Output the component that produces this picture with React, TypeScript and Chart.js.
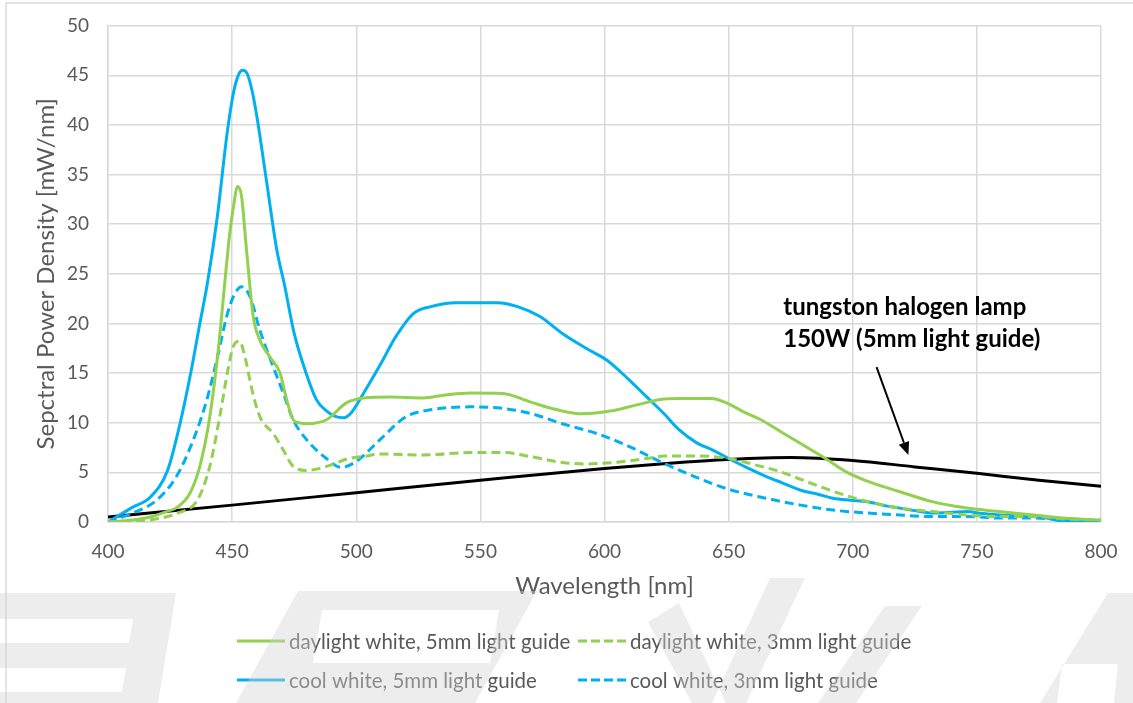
import React, { useEffect, useRef } from 'react';
import { Chart, registerables } from 'chart.js';

Chart.register(...registerables);

// ---------- data ----------
const dw5X = [400, 410, 417, 423, 428, 433, 437, 441, 444.4, 447, 449, 450.5, 452.2, 453.8, 455.8, 458.5, 461.2, 465.3, 469.3, 472, 474.6, 477, 480, 488, 496, 503, 514, 527, 536, 546, 559, 570, 581, 591, 603, 613, 624, 630, 643, 650, 656, 663, 671, 679, 689, 697, 705, 719, 732, 746, 759, 773, 786, 800];
const dw5Y = [0, 0.2, 0.5, 1.0, 1.5, 2.9, 5.6, 10.6, 17.3, 24, 29, 31.7, 33.8, 32.8, 27.4, 20.7, 18.3, 16.6, 15, 12.3, 10.3, 10.0, 9.9, 10.3, 12, 12.5, 12.6, 12.5, 12.8, 13, 12.95, 12.1, 11.3, 10.9, 11.2, 11.8, 12.4, 12.45, 12.45, 11.9, 11.1, 10.3, 9.1, 7.9, 6.4, 5.1, 4.2, 3.05, 2.05, 1.4, 1.05, 0.7, 0.37, 0.2];

const dw3X = [400, 410, 417, 428, 436, 441, 445, 448.5, 450.5, 453, 455.2, 458, 461.2, 466.6, 470.6, 474.6, 480, 488, 497, 503, 510, 527, 546, 559, 570, 583, 592, 608, 617, 624, 638, 650, 663, 671, 679, 692, 706, 719, 732, 746, 759, 773, 786, 800];
const dw3Y = [0, 0.1, 0.2, 0.9, 2.2, 5.6, 10.6, 15.6, 17.7, 18.2, 16.6, 13.3, 10.6, 8.9, 7.25, 5.6, 5.2, 5.6, 6.4, 6.6, 6.85, 6.75, 7, 7, 6.6, 6, 5.85, 6.1, 6.4, 6.65, 6.65, 6.4, 5.6, 5.05, 4.3, 3.1, 2.05, 1.4, 1.05, 0.7, 0.55, 0.55, 0.3, 0.2];

const cw5X = [400, 410, 417, 424, 429, 433, 437, 440, 444, 448, 450.5, 452.5, 454.2, 456, 458, 460, 464, 468, 471, 475, 479, 484, 488, 491, 495, 498, 503, 510, 516, 523, 530, 540, 557, 565, 574, 583, 594, 601, 610, 617, 624, 630, 637, 644, 650, 658, 665, 672, 679, 686, 692, 699, 706, 712, 719, 726, 732, 739, 746, 752, 759, 766, 773, 779, 786, 793, 800];
const cw5Y = [0, 1.5, 2.5, 5.2, 9.9, 14.6, 20, 24, 30.7, 39.2, 43.2, 45, 45.5, 45.2, 43.5, 40.8, 34.1, 27.4, 24, 19, 15.6, 12.3, 11.2, 10.7, 10.5, 11, 13, 16, 18.7, 21, 21.7, 22.1, 22.1, 21.7, 20.7, 19, 17.3, 16.3, 14.3, 12.6, 10.9, 9.3, 8.0, 7.2, 6.4, 5.4, 4.6, 3.9, 3.2, 2.8, 2.4, 2.2, 2.05, 1.7, 1.4, 1.1, 0.9, 0.95, 1.05, 0.85, 0.7, 0.6, 0.55, 0.35, 0.05, 0.05, 0.05];

const cw3X = [400, 410, 419.6, 427.6, 434.4, 439.8, 443.8, 447.8, 450.5, 453.8, 457.2, 461.2, 466.6, 470.6, 474.6, 480, 488, 494, 500, 509.6, 520, 530, 546, 559, 570, 583, 597, 610, 624, 637, 650, 665, 679, 692, 706, 719, 732, 746, 759, 773, 786, 800];
const cw3Y = [0, 0.9, 2.2, 4.6, 8.3, 12.3, 16.3, 20.7, 22.7, 23.7, 22.7, 19.3, 15.6, 13, 10.3, 8.3, 6.4, 5.5, 6.1, 8.3, 10.6, 11.3, 11.6, 11.45, 10.95, 9.9, 8.9, 7.6, 5.9, 4.5, 3.3, 2.4, 1.7, 1.2, 0.9, 0.7, 0.55, 0.55, 0.4, 0.4, 0.2, 0.05];

const thX = [400, 450, 500, 550, 600, 625, 650, 675, 700, 725, 750, 775, 800];
const thY = [0.5, 1.7, 2.95, 4.2, 5.4, 5.9, 6.3, 6.5, 6.2, 5.55, 4.9, 4.2, 3.6];

const seriesLabels = [
  'daylight white, 5mm light guide',
  'daylight white, 3mm light guide',
  'cool white, 5mm light guide',
  'cool white, 3mm light guide',
];
const annotationLines = ['tungston halogen lamp', '150W (5mm light guide)'];
const annotationX = 672;
const annotationY = [21.65, 18.4];
const arrowFrom = [709.6, 15.6];
const arrowTo = [722.4, 6.75];

const xTitle = 'Wavelength [nm]';
const yTitle = 'Sepctral Power Density [mW/nm]';

// ---------- styles ----------
const GREEN = '#92D050';
const BLUE = '#00B0F0';
const GRID = '#d9d9d9';
const TEXT = '#595959';
const FONT = 'Lato, "Open Sans", sans-serif';

const pts = (xs: number[], ys: number[]) => xs.map((x, i) => ({ x, y: ys[i] }));

const outerBorder = {
  id: 'outerBorder',
  beforeDraw(chart: any) {
    const ctx = chart.ctx;
    ctx.save();
    ctx.fillStyle = '#ffffff';
    ctx.fillRect(0, 0, chart.width, chart.height);
    ctx.strokeStyle = GRID;
    ctx.lineWidth = 1.5;
    ctx.beginPath();
    ctx.moveTo(6, chart.height);
    ctx.lineTo(6, 3);
    ctx.lineTo(chart.width, 3);
    ctx.stroke();
    ctx.restore();
  },
};

const annotation = {
  id: 'annotation',
  afterDatasetsDraw(chart: any) {
    const { ctx, scales } = chart;
    const xs = scales.x;
    const ys = scales.y;
    ctx.save();
    ctx.fillStyle = '#000';
    ctx.font = `bold 24px ${FONT}`;
    ctx.textAlign = 'left';
    ctx.textBaseline = 'middle';
    annotationLines.forEach((t, i) => {
      ctx.fillText(t, xs.getPixelForValue(annotationX), ys.getPixelForValue(annotationY[i]));
    });
    const x0 = xs.getPixelForValue(arrowFrom[0]);
    const y0 = ys.getPixelForValue(arrowFrom[1]);
    const x1 = xs.getPixelForValue(arrowTo[0]);
    const y1 = ys.getPixelForValue(arrowTo[1]);
    const ang = Math.atan2(y1 - y0, x1 - x0);
    const hl = 13;
    const hw = 5.5;
    const bx = x1 - hl * Math.cos(ang);
    const by = y1 - hl * Math.sin(ang);
    ctx.strokeStyle = '#000';
    ctx.lineWidth = 2;
    ctx.beginPath();
    ctx.moveTo(x0, y0);
    ctx.lineTo(bx, by);
    ctx.stroke();
    ctx.beginPath();
    ctx.moveTo(x1, y1);
    ctx.lineTo(bx + hw * Math.sin(ang), by - hw * Math.cos(ang));
    ctx.lineTo(bx - hw * Math.sin(ang), by + hw * Math.cos(ang));
    ctx.closePath();
    ctx.fill();
    ctx.restore();
  },
};

const customLegend = {
  id: 'customLegend',
  afterDraw(chart: any) {
    const ctx = chart.ctx;
    const colX = [237, 578];
    const rowY = [641, 680];
    const lineLen = 48;
    const colors = [GREEN, GREEN, BLUE, BLUE];
    const dashed = [false, true, false, true];
    ctx.save();
    ctx.font = `20.5px ${FONT}`;
    ctx.textBaseline = 'middle';
    ctx.textAlign = 'left';
    seriesLabels.forEach((label, i) => {
      const cx = colX[i % 2];
      const cy = rowY[Math.floor(i / 2)];
      ctx.strokeStyle = colors[i];
      ctx.lineWidth = 3;
      ctx.setLineDash(dashed[i] ? [9, 4] : []);
      ctx.beginPath();
      ctx.moveTo(cx, cy);
      ctx.lineTo(cx + lineLen, cy);
      ctx.stroke();
      ctx.setLineDash([]);
      ctx.fillStyle = TEXT;
      ctx.fillText(label, cx + lineLen + 4, cy + 1);
    });
    ctx.restore();
  },
};

// faint watermark overlay (decoration)
const watermarkShapes: number[][][] = [
  [[0, 593], [176, 593], [158, 703], [0, 703]],
  [[0, 619], [133, 619], [129, 643], [0, 643]],
  [[0, 668], [126, 668], [122, 692], [0, 692]],
  [[298, 591], [537, 591], [475, 703], [236, 703]],
  [[322, 610], [499, 610], [490, 663], [313, 663]],
  [[648, 622], [679, 603], [726, 703], [692, 703]],
  [[770, 578], [805, 578], [746, 703], [712, 703]],
  [[885, 606], [922, 606], [856, 703], [818, 703]],
  [[1108, 593], [1133, 593], [1133, 703], [1040, 703]],
  [[1062, 664], [1118, 664], [1114, 703], [1057, 703]],
];
const watermark = {
  id: 'watermark',
  afterDraw(chart: any) {
    const ctx = chart.ctx;
    ctx.save();
    ctx.fillStyle = 'rgba(212,212,212,0.42)';
    ctx.beginPath();
    watermarkShapes.forEach((poly) => {
      poly.forEach(([x, y], i) => (i === 0 ? ctx.moveTo(x, y) : ctx.lineTo(x, y)));
      ctx.closePath();
    });
    ctx.fill('evenodd');
    ctx.restore();
  },
};

export default function App() {
  const ref = useRef<HTMLCanvasElement | null>(null);

  useEffect(() => {
    document.body.style.margin = '0';
    if (!ref.current) return;
    const common = { pointRadius: 0, borderWidth: 3, cubicInterpolationMode: 'monotone' as const, fill: false };
    const chart = new Chart(ref.current, {
      type: 'line',
      data: {
        datasets: [
          { ...common, label: seriesLabels[0], data: pts(dw5X, dw5Y), borderColor: GREEN, backgroundColor: GREEN },
          { ...common, label: seriesLabels[1], data: pts(dw3X, dw3Y), borderColor: GREEN, backgroundColor: GREEN, borderDash: [9, 5] },
          { ...common, label: seriesLabels[2], data: pts(cw5X, cw5Y), borderColor: BLUE, backgroundColor: BLUE },
          { ...common, label: seriesLabels[3], data: pts(cw3X, cw3Y), borderColor: BLUE, backgroundColor: BLUE, borderDash: [9, 5] },
          { ...common, label: 'tungston halogen lamp', data: pts(thX, thY), borderColor: '#000', backgroundColor: '#000' },
        ],
      },
      options: {
        responsive: false,
        animation: false,
        layout: { padding: { top: 25.7, right: 32, bottom: 101, left: 0 } },
        plugins: { legend: { display: false }, tooltip: { enabled: false } },
        scales: {
          x: {
            type: 'linear',
            min: 400,
            max: 800,
            afterFit: (s: any) => { s.height = 80; s.paddingLeft = 0; s.paddingRight = 0; },
            ticks: { stepSize: 50, color: TEXT, font: { family: FONT, size: 19 }, padding: 18 },
            grid: { color: GRID, lineWidth: 1.5, drawTicks: false },
            border: { display: true, color: GRID, width: 1.5 },
            title: { display: true, text: xTitle, color: TEXT, font: { family: FONT, size: 24 }, padding: { top: 0, bottom: 1.6 } },
          },
          y: {
            min: 0,
            max: 50,
            afterFit: (s: any) => { s.width = 108; s.paddingTop = 0; s.paddingBottom = 0; },
            ticks: { stepSize: 5, color: TEXT, font: { family: FONT, size: 19 }, padding: 19 },
            grid: { color: GRID, lineWidth: 1.5, drawTicks: false },
            border: { display: true, color: GRID, width: 1.5 },
            title: { display: true, text: yTitle, color: TEXT, font: { family: FONT, size: 24 }, padding: { top: 31.6, bottom: 0 } },
          },
        },
      },
      plugins: [outerBorder, annotation, customLegend, watermark],
    });
    return () => chart.destroy();
  }, []);

  return (
    <div style={{ width: 1133, height: 703, position: 'relative' }}>
      <canvas ref={ref} width={1133} height={703} style={{ display: 'block' }} />
    </div>
  );
}
